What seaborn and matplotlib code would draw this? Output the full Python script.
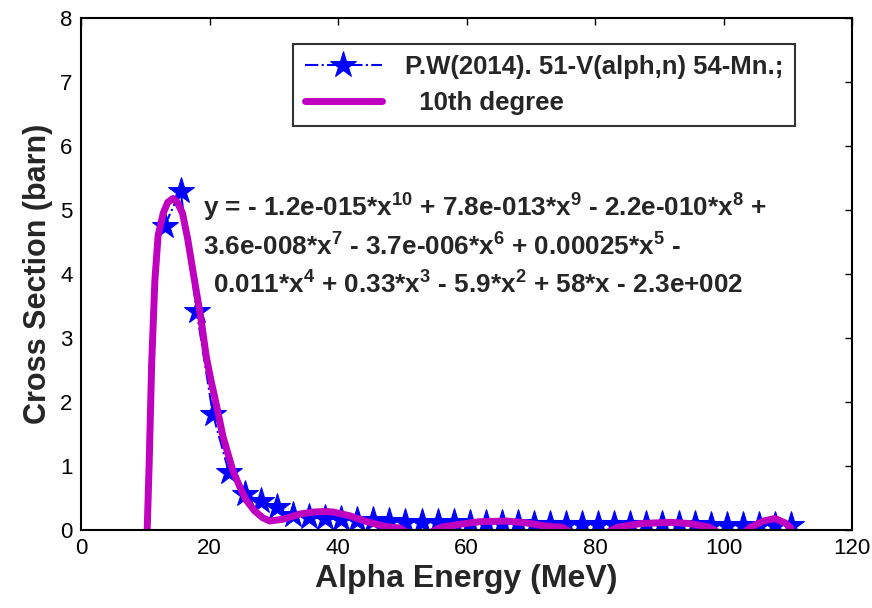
import matplotlib
matplotlib.use("Agg")
import matplotlib.pyplot as plt
import seaborn as sns
import pandas as pd
import numpy as np

# measured data (stars)
energy_exp = [13.0, 15.5, 18.0, 20.5, 23.0, 25.5, 28.0, 30.5, 33.0, 35.5,
              38.0, 40.5, 43.0, 45.5, 48.0, 50.5, 53.0, 55.5, 58.0, 60.5,
              63.0, 65.5, 68.0, 70.5, 73.0, 75.5, 78.0, 80.5, 83.0, 85.5,
              88.0, 90.5, 93.0, 95.5, 98.0, 100.5, 103.0, 105.5, 108.0, 110.5]
sigma_exp = [4.75, 5.30, 3.42, 1.82, 0.91, 0.56, 0.45, 0.36, 0.24, 0.20,
             0.18, 0.17, 0.16, 0.15, 0.14, 0.13, 0.13, 0.12, 0.12, 0.11,
             0.11, 0.11, 0.11, 0.10, 0.10, 0.10, 0.10, 0.10, 0.09, 0.09,
             0.09, 0.09, 0.09, 0.09, 0.08, 0.08, 0.08, 0.08, 0.08, 0.08]

# 10th degree fitted curve
energy_fit = [10.3, 10.6, 11.0, 11.5, 12.0, 12.8, 13.5, 14.3, 15.0, 15.8,
              16.6, 17.4, 18.0, 18.7, 19.5, 20.2, 20.8, 21.5, 22.1, 23.6,
              24.6, 25.7, 27.0, 28.3, 29.4, 31.5, 34.1, 36.1, 38.0, 39.3,
              41.9, 44.5, 47.6, 49.7, 51.0, 52.5, 54.0, 55.9, 59.0, 62.1,
              66.3, 69.4, 72.5, 75.0, 76.5, 79.0, 81.5, 83.4, 87.0, 91.7,
              94.8, 97.9, 99.5, 101.5, 103.0, 104.1, 106.2, 108.0, 109.6, 110.5]
sigma_fit = [0.00, 1.00, 2.60, 3.90, 4.60, 4.95, 5.12, 5.18, 5.12, 4.95,
             4.55, 4.06, 3.70, 3.28, 2.71, 2.35, 2.08, 1.75, 1.46, 0.94,
             0.70, 0.47, 0.30, 0.19, 0.14, 0.17, 0.25, 0.28, 0.29, 0.28,
             0.22, 0.13, 0.05, 0.03, -0.06, -0.08, -0.06, 0.04, 0.09, 0.13,
             0.14, 0.11, 0.06, 0.04, -0.06, -0.08, -0.06, 0.04, 0.10, 0.12,
             0.10, 0.04, -0.06, -0.08, -0.06, 0.04, 0.14, 0.18, 0.11, 0.03]

x_ticks = [0, 20, 40, 60, 80, 100, 120]
y_ticks = [0, 1, 2, 3, 4, 5, 6, 7, 8]

eq_lines = [
    r"y = - 1.2e-015*x$\mathregular{^{10}}$ + 7.8e-013*x$\mathregular{^{9}}$ - 2.2e-010*x$\mathregular{^{8}}$ +",
    r"3.6e-008*x$\mathregular{^{7}}$ - 3.7e-006*x$\mathregular{^{6}}$ + 0.00025*x$\mathregular{^{5}}$ -",
    r"0.011*x$\mathregular{^{4}}$ + 0.33*x$\mathregular{^{3}}$ - 5.9*x$\mathregular{^{2}}$ + 58*x - 2.3e+002",
]

sns.set_style("white")
plt.rcParams['font.family'] = ['Liberation Sans', 'DejaVu Sans']

df_exp = pd.DataFrame({"E": energy_exp, "S": sigma_exp})
df_fit = pd.DataFrame({"E": energy_fit, "S": sigma_fit})

fig = plt.figure(figsize=(8.72, 6.08), dpi=100)
ax = fig.add_axes([81/872, 78/608, 771/872, 512/608])

sns.lineplot(data=df_exp, x="E", y="S", ax=ax, color="#0000ff", linestyle="-.",
             linewidth=1.5, marker="*", markersize=20, markeredgecolor="#0000ff",
             markerfacecolor="#0000ff", sort=False, estimator=None,
             label="P.W(2014). 51-V(alph,n) 54-Mn.;")
sns.lineplot(data=df_fit, x="E", y="S", ax=ax, color="#bf00bf", linewidth=5,
             sort=False, estimator=None, label="  10th degree")

ax.set_xlim(0, 120)
ax.set_ylim(0, 8)
ax.set_xticks(x_ticks)
ax.set_yticks(y_ticks)
ax.tick_params(direction="in", length=5, width=1, top=True, right=True,
               labelsize=16, colors="black", pad=6)
for s in ax.spines.values():
    s.set_color("black")
    s.set_linewidth(1.5)

ax.set_xlabel("Alpha Energy (MeV)", fontsize=23, fontweight="bold", labelpad=3)
ax.set_ylabel("Cross Section (barn)", fontsize=22, fontweight="bold", labelpad=5)

ax.text(19.0, 5.03, eq_lines[0], fontsize=18.8, fontweight="bold", ha="left", va="center")
ax.text(19.0, 4.42, eq_lines[1], fontsize=18.8, fontweight="bold", ha="left", va="center")
ax.text(20.5, 3.83, eq_lines[2], fontsize=18.8, fontweight="bold", ha="left", va="center")

leg = ax.legend(loc="upper left", bbox_to_anchor=(0.275, 0.95), fontsize=18.5,
                frameon=True, fancybox=False, edgecolor="black", handlelength=3.0,
                borderpad=0.45, labelspacing=0.45, handletextpad=0.9, borderaxespad=0)
leg.get_frame().set_linewidth(1.5)
for t in leg.get_texts():
    t.set_fontweight("bold")

fig.savefig("out.png", dpi=100, facecolor="white")
